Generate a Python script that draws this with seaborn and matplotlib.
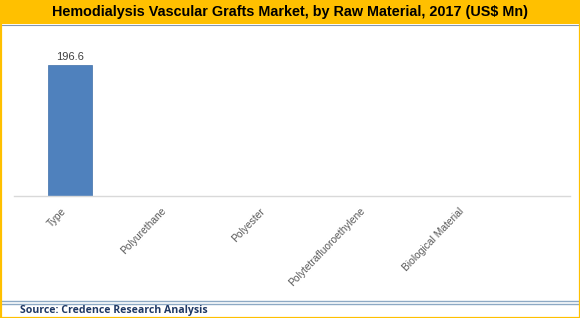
import matplotlib
matplotlib.use("Agg")
import matplotlib.pyplot as plt
import seaborn as sns
import pandas as pd
from matplotlib.patches import Rectangle
from matplotlib.lines import Line2D
from matplotlib.transforms import ScaledTranslation

categories = ["Type", "Polyurethane", "Polyester", "Polytetrafluoroethylene", "Biological Material"]
values = [196.6, 0, 0, 0, 0]
labels = ["196.6", "", "", "", ""]

title = "Hemodialysis Vascular Grafts Market, by Raw Material, 2017 (US$ Mn)"
source = "Source: Credence Research Analysis"

sns.set_theme(style="white")
plt.rcParams['font.family'] = ['Liberation Sans', 'DejaVu Sans']

df = pd.DataFrame({"cat": categories, "val": values})

fig = plt.figure(figsize=(5.8, 3.18), dpi=100)
W, H = 580, 318

def fx(x): return x / W
def fy(y): return 1 - y / H

# yellow border & title band
fig.patches.append(Rectangle((0, fy(24)), 1, 24 / H, transform=fig.transFigure,
                             facecolor="#FFC000", edgecolor="none", zorder=0))
fig.patches.append(Rectangle((fx(0.5), fy(317.5)), fx(579), 317 / H, transform=fig.transFigure,
                             facecolor="none", edgecolor="#FFC000", linewidth=1.6, zorder=5))
fig.lines.append(Line2D([fx(1), fx(579)], [fy(24.5), fy(24.5)], transform=fig.transFigure,
                        color="#8496B0", linewidth=0.8))
fig.text(0.5, fy(12), title, ha="center", va="center", fontsize=10.4, fontweight="bold", color="black")

ax = fig.add_axes([fx(14), fy(196), fx(570 - 14), (196 - 29.4) / H])
sns.barplot(data=df, x="cat", y="val", color="#4F81BD", width=0.44, ax=ax, saturation=1,
            edgecolor="#3F6FA8", linewidth=0.5)
ax.set_ylim(0, 250)
unit = 99.5
left = -(70 - 14) / unit
ax.set_xlim(left, left + 556 / unit)
ax.set_xlabel("")
ax.set_ylabel("")
ax.set_yticks([])
for s in ["top", "right", "left"]:
    ax.spines[s].set_visible(False)
ax.spines["bottom"].set_color("#D9D9D9")
ax.spines["bottom"].set_linewidth(1)
ax.tick_params(axis="x", length=0, pad=7)
ax.set_xticks(range(len(categories)))
ax.set_xticklabels(categories, rotation=46, ha="right", rotation_mode="anchor",
                   fontsize=7.4, color="#595959")
for lab in ax.get_xticklabels():
    lab.set_transform(lab.get_transform() + ScaledTranslation(-9 / 100, 0, fig.dpi_scale_trans))
for i, (v, lab) in enumerate(zip(values, labels)):
    if lab:
        ax.text(i, v + 4, lab, ha="center", va="bottom", fontsize=8, color="#404040")
ax.patch.set_alpha(0)

# double line above source
fig.lines.append(Line2D([fx(1), fx(579)], [fy(301), fy(301)], transform=fig.transFigure,
                        color="#8DA9C4", linewidth=1))
fig.lines.append(Line2D([fx(1), fx(579)], [fy(303.5), fy(303.5)], transform=fig.transFigure,
                        color="#8DA9C4", linewidth=1))
fig.text(fx(20), fy(311), source, ha="left", va="center", fontsize=7.6, fontweight="bold",
         color="#1F3864", family=["Open Sans", "DejaVu Sans"])

fig.savefig("out.png", dpi=100)
